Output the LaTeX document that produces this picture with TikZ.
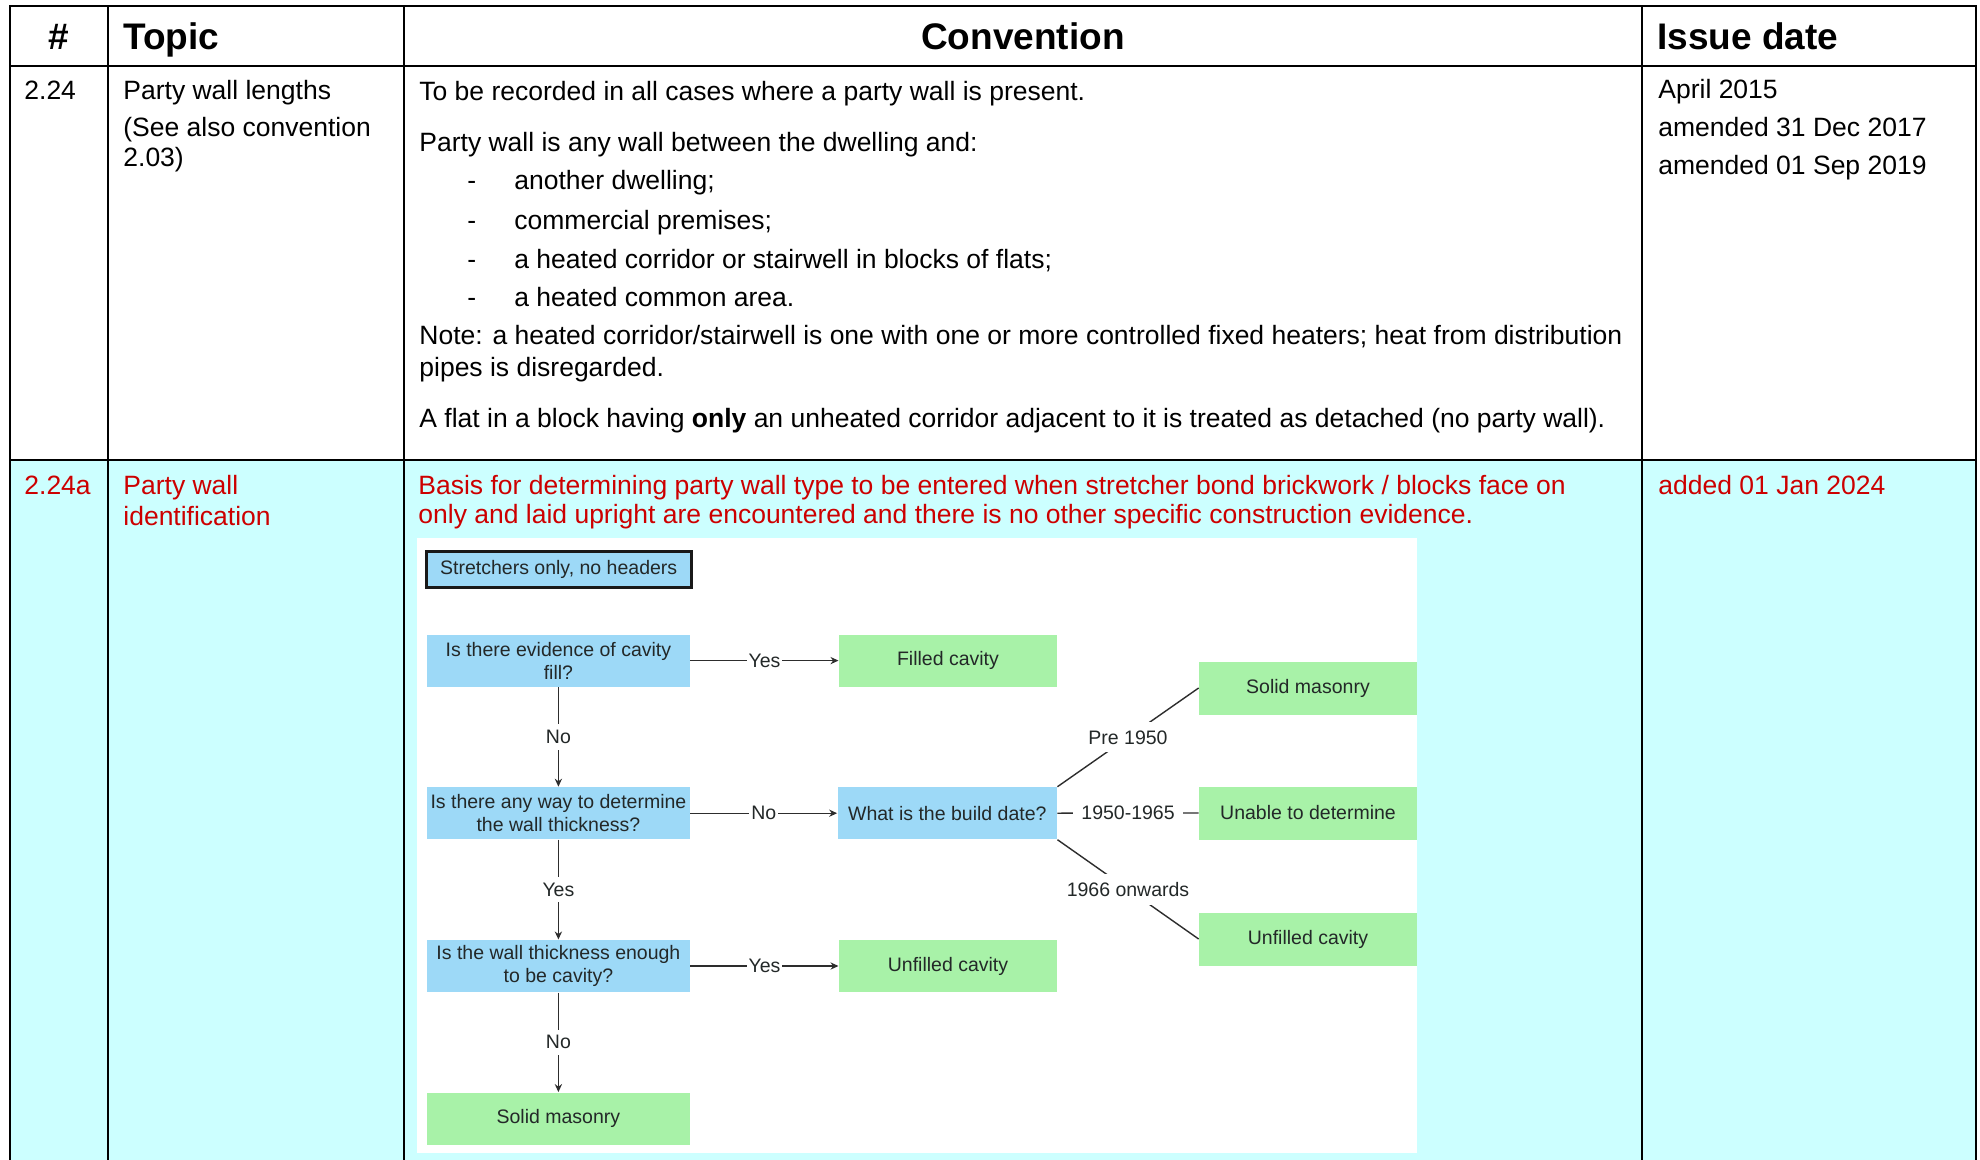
\documentclass[tikz,border=0pt]{standalone}
\usepackage{fontspec}
\setmainfont{Liberation Sans}
\usetikzlibrary{arrows.meta}
\definecolor{rowcyan}{RGB}{204,255,255}
\definecolor{redtxt}{RGB}{204,0,0}
\definecolor{fcblue}{RGB}{157,217,247}
\definecolor{fcgreen}{RGB}{168,242,168}
\definecolor{fcline}{RGB}{45,45,45}
\definecolor{fctext}{RGB}{35,40,40}
\begin{document}
\begin{tikzpicture}[x=0.5pt,y=-0.5pt,
  gridline/.style={line width=1.25pt, black},
  body/.style={anchor=base west, inner sep=0pt, font=\fontsize{13.25}{15}\selectfont},
  redbody/.style={body, text=redtxt},
  headc/.style={anchor=base, inner sep=0pt, font=\fontsize{18.5}{22}\selectfont\bfseries},
  headl/.style={anchor=base west, inner sep=0pt, font=\fontsize{18.5}{22}\selectfont\bfseries},
  fcbox/.style={inner sep=0pt, minimum width=131.6pt, minimum height=26.1pt, align=center,
    font=\fontsize{9.75}{11.5}\selectfont, text=fctext},
  fcq/.style={fcbox, fill=fcblue},
  fcres/.style={fcbox, fill=fcgreen, minimum width=109.1pt},
  fcres2/.style={fcbox, fill=fcgreen, minimum width=109pt, minimum height=26.5pt},
  fcarrow/.style={draw=fcline, line width=0.7pt, -{Stealth[length=4pt,width=3.6pt]}},
  fcconn/.style={draw=fcline, line width=0.7pt},
  lbl/.style={fill=white, inner xsep=1pt, inner ysep=3pt, font=\fontsize{9.75}{11.5}\selectfont, text=fctext},
  dlbl/.style={fill=white, inner xsep=4pt, inner ysep=4pt, font=\fontsize{9.75}{11.5}\selectfont, text=fctext}
]
\useasboundingbox (0,0) rectangle (1980,1160);
\fill[white] (0,0) rectangle (1980,1160);
\fill[rowcyan] (10,460) rectangle (1976,1160);
\fill[white] (417,538) rectangle (1417,1153);

% table grid
\draw[gridline] (10,1160) -- (10,6) -- (1976,6) -- (1976,1160);
\draw[gridline] (10,66) -- (1976,66);
\draw[gridline] (10,460) -- (1976,460);
\draw[gridline] (108,6) -- (108,1160);
\draw[gridline] (404,6) -- (404,1160);
\draw[gridline] (1642,6) -- (1642,1160);

% header
\node[headc] (hnum) at (59,49.5) {\#};
\node[headl] (htopic) at (123,49.5) {Topic};
\node[headc] (hconv) at (1023,49.5) {Convention};
\node[headl] (hdate) at (1657,49.5) {Issue date};

% row 1
\node[body] (r1num) at (24,100) {2.24};
\node[body] (r1t1) at (123,100) {Party wall lengths};
\node[body] (r1t2) at (123,137) {(See also convention};
\node[body] (r1t3) at (123,167) {2.03)};
\node[body] (r1c1) at (419,100.3) {To be recorded in all cases where a party wall is present.};
\node[body] (r1c2) at (419,152) {Party wall is any wall between the dwelling and:};
\node[body] (r1d1) at (467,190) {-};
\node[body] (r1b1) at (514,190) {another dwelling;};
\node[body] (r1d2) at (467,229.3) {-};
\node[body] (r1b2) at (514,229.3) {commercial premises;};
\node[body] (r1d3) at (467,268.3) {-};
\node[body] (r1b3) at (514,268.3) {a heated corridor or stairwell in blocks of flats;};
\node[body] (r1d4) at (467,306.7) {-};
\node[body] (r1b4) at (514,306.7) {a heated common area.};
\node[body] (r1c3) at (419,345) {Note: a heated corridor/stairwell is one with one or more controlled fixed heaters; heat from distribution};
\node[body] (r1c4) at (419,376.7) {pipes is disregarded.};
\node[body] (r1c5) at (419,427.7) {A flat in a block having \textbf{only} an unheated corridor adjacent to it is treated as detached (no party wall).};
\node[body] (r1i1) at (1658,98.7) {April 2015};
\node[body] (r1i2) at (1658,136.5) {amended 31 Dec 2017};
\node[body] (r1i3) at (1658,175) {amended 01 Sep 2019};

% row 2
\node[redbody] (r2num) at (24,494) {2.24a};
\node[redbody] (r2t1) at (123,494) {Party wall};
\node[redbody] (r2t2) at (123,525) {identification};
\node[redbody] (r2c1) at (418,494) {Basis for determining party wall type to be entered when stretcher bond brickwork / blocks face on};
\node[redbody] (r2c2) at (418,523.3) {only and laid upright are encountered and there is no other specific construction evidence.};
\node[redbody] (r2i1) at (1658,494) {added 01 Jan 2024};

% flowchart
\node[fcbox, fill=fcblue, draw=black!90, line width=1.5pt, minimum width=132.5pt, minimum height=18pt] (stretch) at (558.7,569.5) {Stretchers only, no headers};
\node[fcq] (q1) at (558.4,660.6) {Is there evidence of cavity\\fill?};
\node[fcres] (filled) at (948,660.6) {Filled cavity};
\node[fcq] (q2) at (558.4,813.2) {Is there any way to determine\\the wall thickness?};
\node[fcq, minimum width=109.75pt] (bd) at (947.3,813.2) {What is the build date?};
\node[fcq] (q3) at (558.4,966) {Is the wall thickness enough\\to be cavity?};
\node[fcres] (unf1) at (948,966) {Unfilled cavity};
\node[fcq, fill=fcgreen] (sm1) at (558.4,1118.6) {Solid masonry};
\node[fcres2] (sm2) at (1308,688) {Solid masonry};
\node[fcres2] (utd) at (1308,813) {Unable to determine};
\node[fcres2] (unf2) at (1308,939) {Unfilled cavity};

\draw[fcarrow] (q1.east) -- node[lbl] (l1) {Yes} (filled.west);
\draw[fcarrow] (q1.south) -- node[lbl] (l2) {No} (q2.north);
\draw[fcarrow] (q2.east) -- node[lbl] (l3) {No} (bd.west);
\draw[fcarrow] (q2.south) -- node[lbl] (l4) {Yes} (q3.north);
\draw[fcarrow] (q3.east) -- node[lbl] (l5) {Yes} (unf1.west);
\draw[fcarrow] (q3.south) -- node[lbl] (l6) {No} (sm1.north);
\draw[fcconn] (bd.north east) -- node[dlbl] (l7) {Pre 1950} (sm2.west);
\draw[fcconn] (bd.east) -- node[dlbl] (l8) {1950-1965} (utd.west);
\draw[fcconn] (bd.south east) -- node[dlbl] (l9) {1966 onwards} (unf2.west);
\end{tikzpicture}
\end{document}
